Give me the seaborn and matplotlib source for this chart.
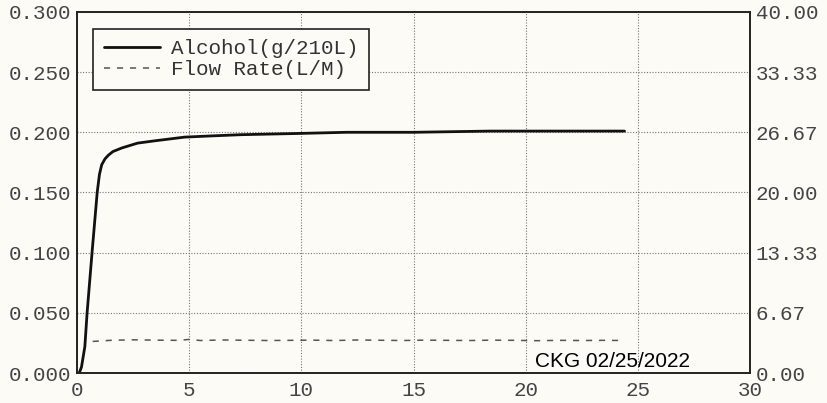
import numpy as np
import matplotlib
matplotlib.use("Agg")
import matplotlib.pyplot as plt
import seaborn as sns

# Data
t_alcohol = [0, 0.1, 0.2, 0.35, 0.45, 0.67, 0.9, 1.0, 1.1, 1.25, 1.4, 1.6,
             2.0, 2.7, 3.5, 4.8, 6.0, 7.3, 9.8, 12.0, 15.0, 18.4, 21.0, 24.4]
alcohol = [0.0, 0.0, 0.005, 0.022, 0.05, 0.10, 0.15, 0.165, 0.173, 0.178,
           0.181, 0.184, 0.187, 0.191, 0.193, 0.196, 0.197, 0.198, 0.199,
           0.200, 0.200, 0.201, 0.201, 0.201]

t_flow = [0.7, 1.5, 2.5, 3.5, 4.5, 5.0, 5.5, 6.5, 7.5, 8.5, 9.5, 10.5, 11.5,
          12.5, 13.5, 14.5, 15.5, 16.5, 17.5, 18.5, 19.5, 20.5, 21.5, 22.5,
          23.5, 24.4]
flow = [3.50, 3.62, 3.68, 3.64, 3.62, 3.72, 3.60, 3.66, 3.63, 3.60, 3.62,
        3.64, 3.60, 3.66, 3.63, 3.60, 3.64, 3.62, 3.60, 3.64, 3.62, 3.58,
        3.62, 3.60, 3.62, 3.60]

left_ticks = [0.0, 0.05, 0.10, 0.15, 0.20, 0.25, 0.30]
right_ticks = [0.0, 40 / 6, 80 / 6, 20.0, 160 / 6, 200 / 6, 40.0]
x_ticks = [0, 5, 10, 15, 20, 25, 30]

sns.set_style("white")
plt.rcParams['font.family'] = ['Liberation Mono', 'DejaVu Sans Mono']

bg = '#fcfbf5'
fig = plt.figure(figsize=(8.28, 4.03), dpi=100, facecolor=bg)
ax = fig.add_axes([0.093, 0.0744, 0.813, 0.896])
ax.set_facecolor(bg)
ax2 = ax.twinx()

sns.lineplot(x=t_alcohol, y=alcohol, ax=ax, color='#111111', linewidth=2.0,
             label='Alcohol(g/210L)', legend=False)
sns.lineplot(x=t_flow, y=flow, ax=ax2, color='#555555', linewidth=1.1,
             linestyle=(0, (4, 4.5)), label='Flow Rate(L/M)', legend=False)

ax.set_xlim(0, 30)
ax.set_ylim(0, 0.3)
ax2.set_ylim(0, 40)
ax.set_xticks(x_ticks)
ax.set_yticks(left_ticks)
ax.set_yticklabels([f"{v:.3f}" for v in left_ticks])
ax2.set_yticks(right_ticks)
ax2.set_yticklabels([f"{v:.2f}" for v in right_ticks])

ax.grid(True, linestyle=(0, (1, 1.5)), color='#777777', linewidth=0.8)
ax2.grid(False)

for a in (ax, ax2):
    a.tick_params(length=0, pad=4, labelsize=15, labelcolor='#444444')
    for s in a.spines.values():
        s.set_color('#222222')
        s.set_linewidth(1.2)
ax.tick_params(axis='x', pad=6)
ax.set_xlabel('')
ax.set_ylabel('')
ax2.set_ylabel('')

h1, l1 = ax.get_legend_handles_labels()
h2, l2 = ax2.get_legend_handles_labels()
leg = ax2.legend(h1 + h2, l1 + l2, loc='upper left',
                 bbox_to_anchor=(0.024, 0.953), borderaxespad=0,
                 fancybox=False, framealpha=1, facecolor=bg,
                 edgecolor='#222222', fontsize=15, handlelength=2.7,
                 handletextpad=0.55, labelspacing=0.1, borderpad=0.5)
leg.get_frame().set_linewidth(1.2)
for txt in leg.get_texts():
    txt.set_color('#333333')

ax.text(20.4, 0.005, 'CKG 02/25/2022', family='Liberation Sans',
        fontsize=15, color='black', ha='left', va='baseline')

fig.savefig('out.png', dpi=100, facecolor=bg)
